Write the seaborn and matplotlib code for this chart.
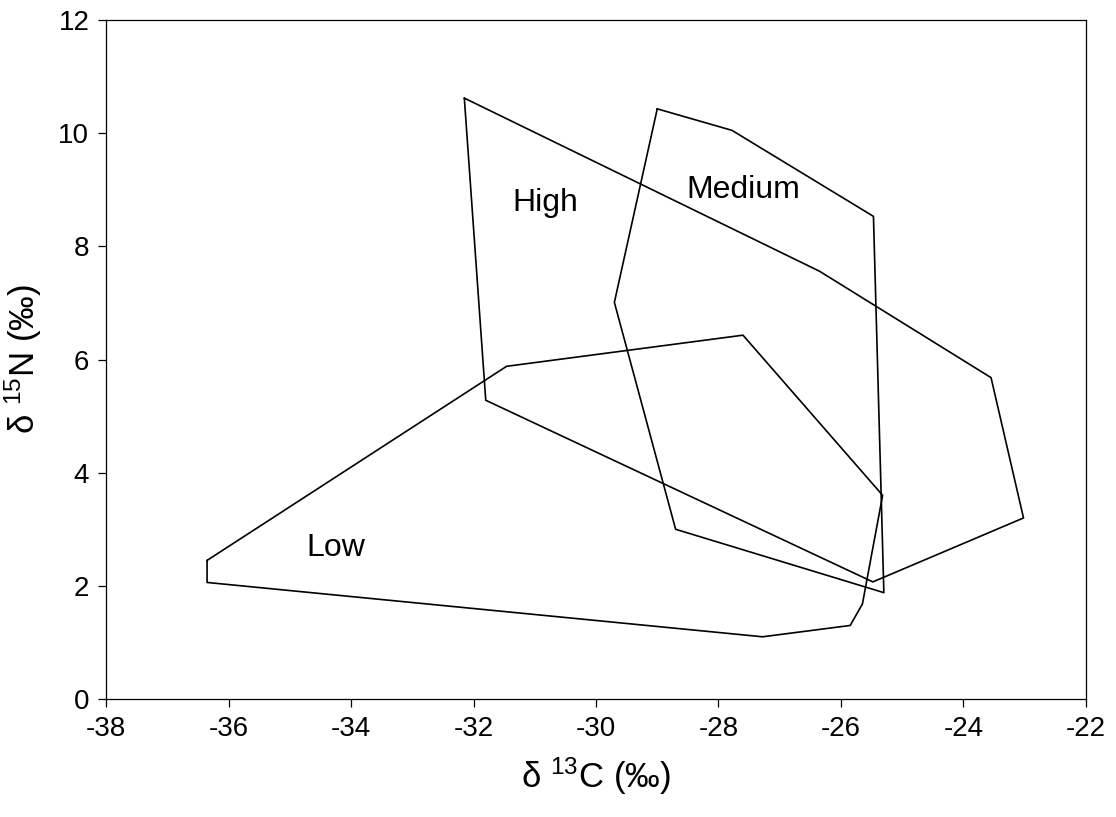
import matplotlib
matplotlib.use("Agg")
import matplotlib.pyplot as plt
import seaborn as sns
import pandas as pd

# Convex hulls of isotope values (delta 13C, delta 15N) for three groups
high_c = [-32.15, -26.35, -23.55, -23.02, -25.48, -31.80]
high_n = [10.62, 7.56, 5.68, 3.20, 2.07, 5.28]

medium_c = [-29.00, -27.78, -25.47, -25.30, -28.70, -29.70]
medium_n = [10.43, 10.05, 8.53, 1.88, 3.00, 7.01]

low_c = [-36.35, -31.46, -27.60, -25.32, -25.65, -25.85, -27.28, -36.35]
low_n = [2.45, 5.88, 6.43, 3.60, 1.68, 1.30, 1.10, 2.06]

group_names = ["High", "Medium", "Low"]
label_x = [-30.83, -27.60, -34.24]
label_y = [8.77, 9.00, 2.67]

x_ticks = [-38, -36, -34, -32, -30, -28, -26, -24, -22]
y_ticks = [0, 2, 4, 6, 8, 10, 12]

sns.set_theme(style="white")
plt.rcParams["font.family"] = ["Liberation Sans", "DejaVu Sans"]
plt.rcParams["axes.unicode_minus"] = False
plt.rcParams["text.color"] = "black"
plt.rcParams["axes.labelcolor"] = "black"
plt.rcParams["xtick.color"] = "black"
plt.rcParams["ytick.color"] = "black"
plt.rcParams["mathtext.default"] = "regular"

fig = plt.figure(figsize=(11.16, 8.17), dpi=100)
ax = fig.add_axes([0.095, 0.1444, 0.8781, 0.8311])

hulls = {
    "High": (high_c, high_n),
    "Medium": (medium_c, medium_n),
    "Low": (low_c, low_n),
}
for name, (cs, ns) in hulls.items():
    df = pd.DataFrame({"c": cs + cs[:1], "n": ns + ns[:1]})
    sns.lineplot(data=df, x="c", y="n", sort=False, estimator=None,
                 color="black", linewidth=1.2, ax=ax)

for name, lx, ly in zip(group_names, label_x, label_y):
    ax.text(lx, ly, name, fontsize=23, ha="center", va="center", color="black")

ax.set_xlim(-38, -22)
ax.set_ylim(0, 12)
ax.set_xticks(x_ticks)
ax.set_yticks(y_ticks)
ax.tick_params(axis="both", which="major", labelsize=20, direction="out",
               length=6, width=0.9, color="black", labelcolor="black",
               bottom=True, left=True, top=False, right=False, pad=6)
for side in ["left", "bottom", "top", "right"]:
    ax.spines[side].set_visible(True)
    ax.spines[side].set_color("black")
    ax.spines[side].set_linewidth(0.9)

ax.set_xlabel("δ $^{13}$C (‰)", fontsize=25, labelpad=10, color="black")
ax.set_ylabel("δ $^{15}$N (‰)", fontsize=25, labelpad=10, color="black")

fig.savefig("out.png", dpi=100, facecolor="white")
